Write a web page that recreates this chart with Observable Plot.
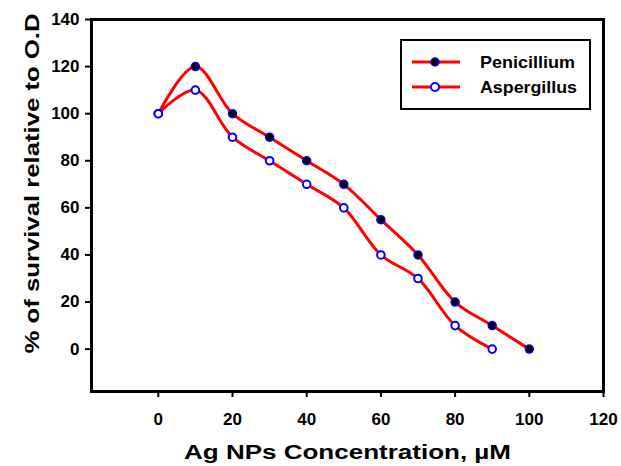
<!DOCTYPE html>
<html>
<head>
<meta charset="utf-8">
<script src="https://cdn.jsdelivr.net/npm/d3@7"></script>
<script src="https://cdn.jsdelivr.net/npm/@observablehq/plot@0.6"></script>
<style>
  html, body { margin: 0; padding: 0; background: white; }
</style>
</head>
<body>
<div id="chart"></div>
<script>
// Data
const concPen = [0, 10, 20, 30, 40, 50, 60, 70, 80, 90, 100];
const penicillium = [100, 120, 100, 90, 80, 70, 55, 40, 20, 10, 0];
const concAsp = [0, 10, 20, 30, 40, 50, 60, 70, 80, 90];
const aspergillus = [100, 110, 90, 80, 70, 60, 40, 30, 10, 0];
const xTicks = [0, 20, 40, 60, 80, 100, 120];
const yTicks = [0, 20, 40, 60, 80, 100, 120, 140];
const seriesNames = ["Penicillium", "Aspergillus"];
const xTitle = "Ag NPs Concentration, µM";
const yTitle = "% of survival relative to O.D";

const pen = concPen.map((x, i) => ({x, y: penicillium[i]}));
const asp = concAsp.map((x, i) => ({x, y: aspergillus[i]}));

const font = "'Liberation Sans', Arial, sans-serif";

const svg = Plot.plot({
  width: 621,
  height: 466,
  marginLeft: 91,
  marginRight: 18,
  marginTop: 19,
  marginBottom: 75,
  x: {domain: [-18, 120]},
  y: {domain: [-18, 140]},
  style: {fontFamily: font, fontWeight: "bold", fontSize: "17px", background: "white", color: "black"},
  marks: [
    Plot.axisX({ticks: xTicks, tickSize: 6, tickPadding: 15, label: null, fontSize: 17, fontWeight: "bold", strokeWidth: 2}),
    Plot.axisY({ticks: yTicks, tickSize: 6, tickPadding: 6, label: null, fontSize: 17, fontWeight: "bold", strokeWidth: 2}),
    Plot.line(pen, {x: "x", y: "y", curve: "catmull-rom", stroke: "red", strokeWidth: 3}),
    Plot.line(asp, {x: "x", y: "y", curve: "catmull-rom", stroke: "red", strokeWidth: 3}),
    Plot.dot(pen, {x: "x", y: "y", r: 4, fill: "black", stroke: "blue", strokeWidth: 1.5}),
    Plot.dot(asp, {x: "x", y: "y", r: 3.8, fill: "white", stroke: "blue", strokeWidth: 2}),
    Plot.frame({stroke: "black", strokeWidth: 3}),
    Plot.text([xTitle], {frameAnchor: "bottom", lineAnchor: "middle", dy: 61, fontSize: 20, fontWeight: "bold", fill: "black"}),
    Plot.text([yTitle], {frameAnchor: "left", textAnchor: "middle", lineAnchor: "middle", rotate: -90, dx: -59, dy: -22, fontSize: 20, fontWeight: "bold", fill: "black"})
  ]
});

// Legend
const g = d3.select(svg).append("g").attr("font-family", font).attr("font-weight", "bold");
g.append("rect").attr("x", 401).attr("y", 40).attr("width", 189).attr("height", 69)
  .attr("fill", "white").attr("stroke", "black").attr("stroke-width", 2);
const rows = [
  {name: seriesNames[0], y: 62, fill: "black", sw: 1.5, len: 95},
  {name: seriesNames[1], y: 87, fill: "white", sw: 2, len: 97}
];
rows.forEach(r => {
  g.append("line").attr("x1", 412).attr("x2", 460).attr("y1", r.y).attr("y2", r.y)
    .attr("stroke", "red").attr("stroke-width", 3);
  g.append("circle").attr("cx", 435).attr("cy", r.y).attr("r", 4)
    .attr("fill", r.fill).attr("stroke", "blue").attr("stroke-width", r.sw);
  g.append("text").attr("x", 480).attr("y", r.y).attr("dy", "0.35em")
    .attr("text-anchor", "start")
    .attr("textLength", r.len).attr("lengthAdjust", "spacingAndGlyphs")
    .attr("font-size", 17).attr("fill", "black").text(r.name);
});

// Widen the axis titles to match the reference's stretched lettering
d3.select(svg).selectAll("text").each(function() {
  if (this.textContent === xTitle) { this.setAttribute("textLength", 327); this.setAttribute("lengthAdjust", "spacingAndGlyphs"); }
  if (this.textContent === yTitle) { this.setAttribute("textLength", 340); this.setAttribute("lengthAdjust", "spacingAndGlyphs"); }
});

document.getElementById("chart").appendChild(svg);
</script>
</body>
</html>
